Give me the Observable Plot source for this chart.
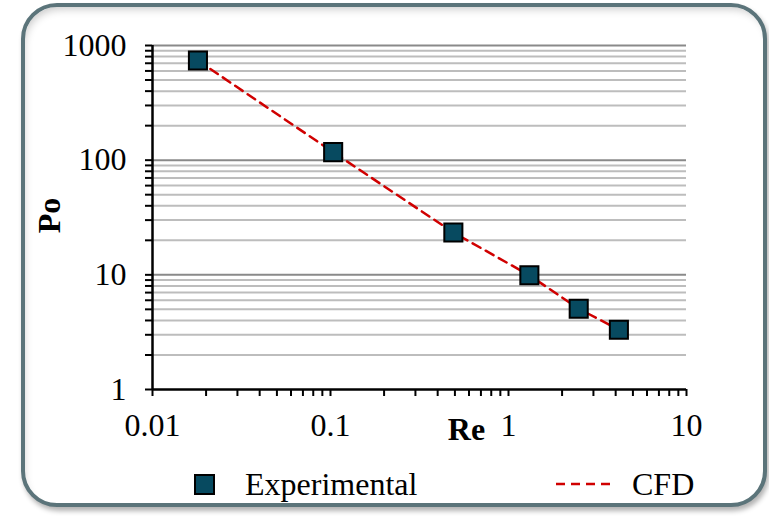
<!DOCTYPE html>
<html>
<head>
<meta charset="utf-8">
<script src="https://cdn.jsdelivr.net/npm/d3@7"></script>
<script src="https://cdn.jsdelivr.net/npm/@observablehq/plot@0.6"></script>
<style>
  html, body { margin: 0; padding: 0; background: #fff; }
  #wrap { position: relative; width: 769px; height: 518px; overflow: hidden; font-family: "Liberation Serif", "Times New Roman", serif; }
  #frame { position: absolute; left: 21px; top: 3px; width: 738px; height: 496px; border: 4.5px solid #5b747a; border-radius: 36px;
           box-shadow: inset 3px 6px 8px -4px rgba(0,0,0,0.22), 2px 4px 5px rgba(0,0,0,0.3); background: #fff; }
  #chart { position: absolute; left: 0; top: 0; }
  .leg { position: absolute; font-size: 32px; color: #000; line-height: 1; }
</style>
</head>
<body>
<div id="wrap">
  <div id="frame"></div>
  <div id="chart"></div>
  <svg class="leg" style="left:194px; top:474px;" width="22" height="22"><rect x="1" y="1" width="19" height="19" fill="#074a60" stroke="#000" stroke-width="2"/></svg>
  <div class="leg" style="left:245px; top:468px;">Experimental</div>
  <svg class="leg" style="left:556px; top:480px;" width="58" height="8"><line x1="0" y1="4" x2="58" y2="4" stroke="#d00000" stroke-width="2.5" stroke-dasharray="9,6"/></svg>
  <div class="leg" style="left:632px; top:468px;">CFD</div>
</div>
<script>
// Data
const reExp = [0.018, 0.1035, 0.49, 1.31, 2.48, 4.17];
const poExp = [739, 117.5, 23.4, 9.9, 5.06, 3.32];
const reCFD = [0.018, 0.1035, 0.49, 1.31, 2.48, 4.17];
const poCFD = [739, 117.5, 23.4, 9.9, 5.06, 3.32];
const xMajor = [0.01, 0.1, 1, 10];
const yMajor = [1, 10, 100, 1000];

const exp = reExp.map((x, i) => ({x, y: poExp[i]}));
const cfd = reCFD.map((x, i) => ({x, y: poCFD[i]}));
const xTicks = d3.scaleLog().domain([0.01, 10]).ticks();
const yTicks = d3.scaleLog().domain([1, 1000]).ticks();
const yMinorGrid = yTicks.filter(d => !yMajor.includes(d));
const yMajorGrid = yMajor.filter(d => d > 1);
const isMajor = (arr) => (d) => arr.some(m => Math.abs(m - d) < 1e-9 * m);

const font = "'Liberation Serif', 'Times New Roman', serif";
const chart = Plot.plot({
  width: 769,
  height: 460,
  marginLeft: 152,
  marginRight: 83,
  marginTop: 45,
  marginBottom: 71,
  style: {fontFamily: font, fontSize: "32px", background: "transparent", color: "#000", overflow: "visible"},
  x: {type: "log", domain: [0.01, 10]},
  y: {type: "log", domain: [1, 1000]},
  marks: [
    Plot.ruleY(yMinorGrid, {stroke: "#bdbdbd", strokeWidth: 2}),
    Plot.ruleY(yMajorGrid, {stroke: "#8a8a8a", strokeWidth: 2}),
    Plot.axisY({ticks: yTicks, tickSize: 7, tickPadding: 19, strokeWidth: 2, stroke: "#000", fontSize: 32,
      tickFormat: d => isMajor(yMajor)(d) ? String(d) : "", label: null}),
    Plot.axisX({ticks: xTicks, tickSize: 7, tickPadding: 17, strokeWidth: 2, stroke: "#000", fontSize: 32,
      tickFormat: d => isMajor(xMajor)(d) ? String(+d.toPrecision(3)) : "", label: null}),
    Plot.ruleX([0.01], {stroke: "#000", strokeWidth: 2.5}),
    Plot.ruleY([1], {stroke: "#000", strokeWidth: 2.5}),
    Plot.line(cfd, {x: "x", y: "y", stroke: "#d00000", strokeWidth: 2.5, strokeDasharray: "9,6"}),
    Plot.dot(exp, {x: "x", y: "y", symbol: "square", r: 10.2, fill: "#074a60", stroke: "#000", strokeWidth: 2}),
    Plot.text(["Re"], {frameAnchor: "bottom", dx: 47, dy: 50, fontWeight: "bold", fontSize: 32}),
    Plot.text(["Po"], {frameAnchor: "left", textAnchor: "middle", dx: -103, dy: -2, rotate: -90, fontWeight: "bold", fontSize: 32})
  ]
});
document.getElementById("chart").appendChild(chart);
</script>
</body>
</html>
